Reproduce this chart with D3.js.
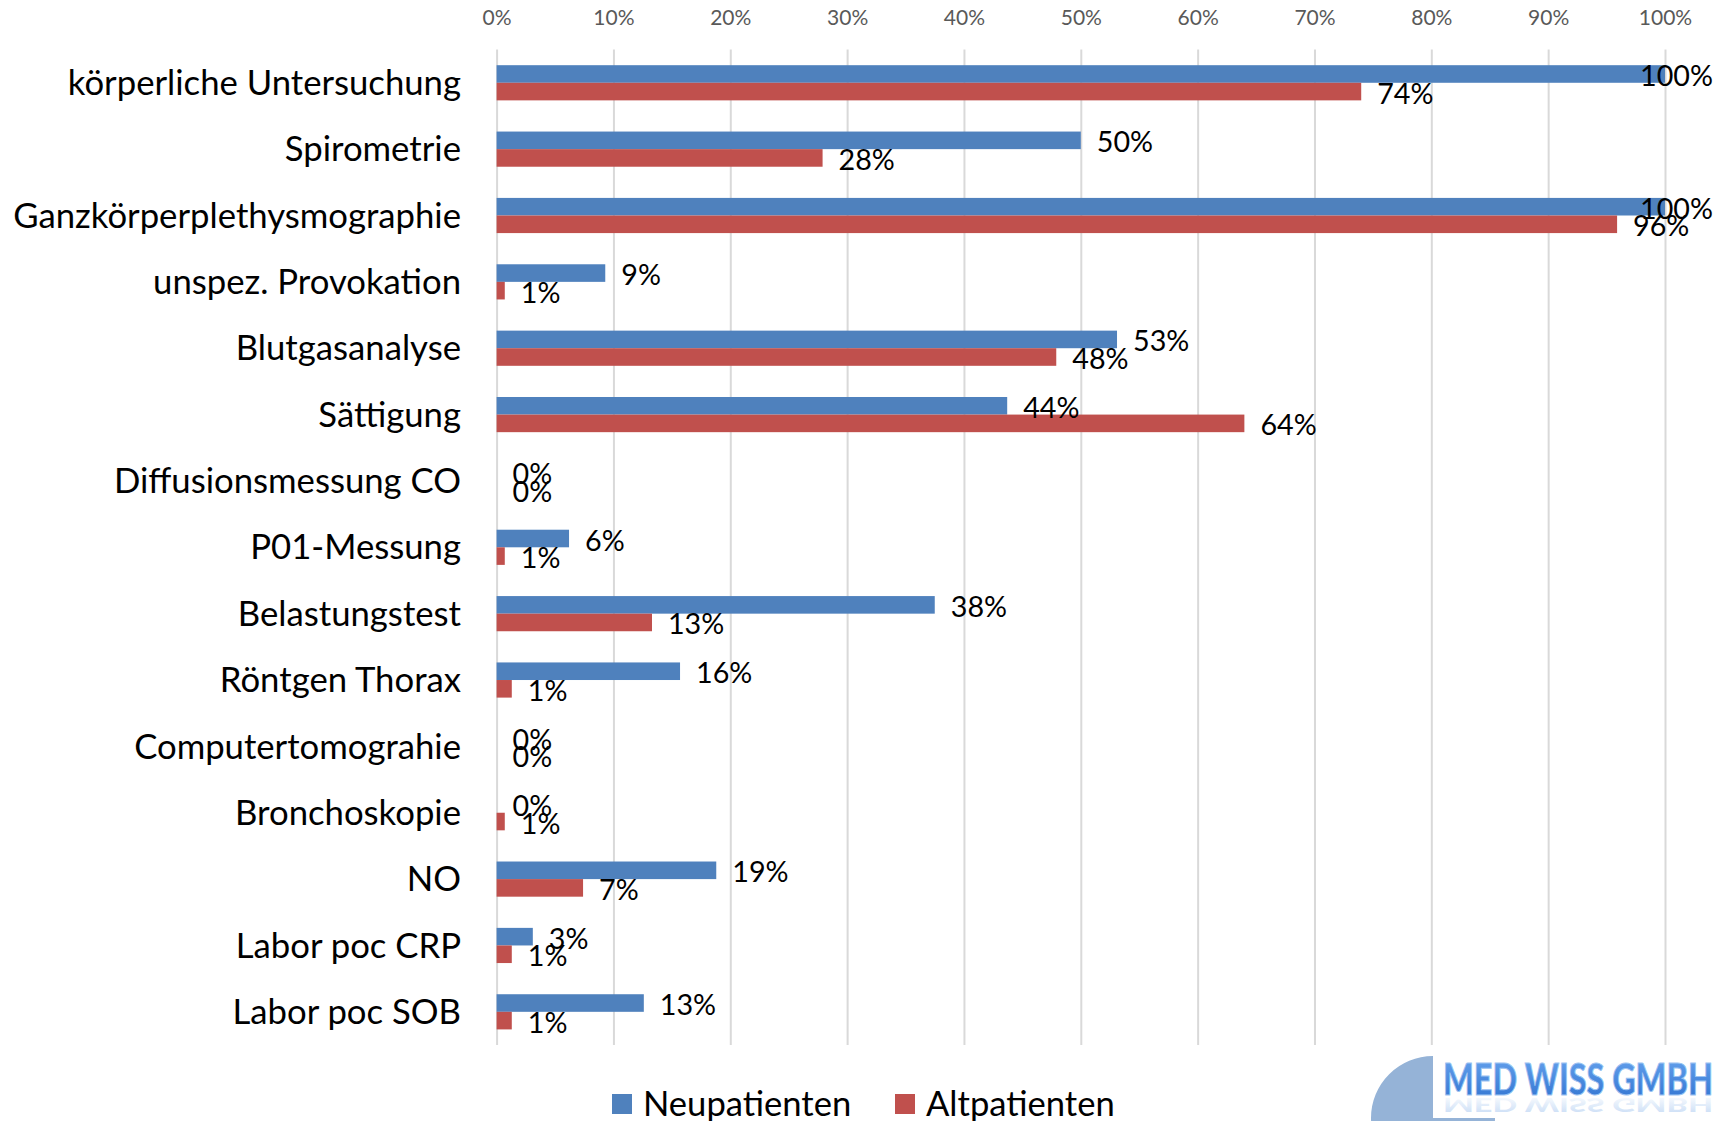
<!DOCTYPE html>
<html>
<head>
<meta charset="utf-8">
<script src="https://cdn.jsdelivr.net/npm/d3@7"></script>
<style>
  html, body { margin: 0; padding: 0; background: #fff; }
  svg { display: block; font-family: Lato, "Open Sans", sans-serif; }
</style>
</head>
<body>
<div id="chart"></div>
<script>
// ---- data ----
const categories = [
  'körperliche Untersuchung', 'Spirometrie', 'Ganzkörperplethysmographie',
  'unspez. Provokation', 'Blutgasanalyse', 'Sättigung', 'Diffusionsmessung CO',
  'P01-Messung', 'Belastungstest', 'Röntgen Thorax', 'Computertomograhie',
  'Bronchoskopie', 'NO', 'Labor poc CRP', 'Labor poc SOB'
];
const seriesNames = ['Neupatienten', 'Altpatienten'];
const neupatienten = [1.00, 0.50, 1.00, 0.093, 0.531, 0.437, 0, 0.062, 0.375, 0.157, 0, 0, 0.188, 0.031, 0.126];
const altpatienten = [0.74, 0.279, 0.959, 0.007, 0.479, 0.64, 0, 0.007, 0.133, 0.013, 0, 0.007, 0.074, 0.013, 0.013];
const tickValues = [0, 0.1, 0.2, 0.3, 0.4, 0.5, 0.6, 0.7, 0.8, 0.9, 1.0];

const WIDTH = 1729, HEIGHT = 1121;
const COLORS = { Neupatienten: '#4F81BD', Altpatienten: '#C0504D' };
const fmt = d3.format('.0%');

const svg = d3.select('#chart').append('svg')
  .attr('width', WIDTH).attr('height', HEIGHT);

const x = d3.scaleLinear().domain([0, 1]).range([496.6, 1665]);
const y = d3.scaleBand().domain(categories).range([49.6, 1045])
  .paddingInner(0.47).paddingOuter(0.235);
const ySub = d3.scaleBand().domain(seriesNames).range([0, y.bandwidth()]);

// gridlines
svg.append('g')
  .attr('transform', `translate(0, 1045)`)
  .call(d3.axisTop(x).tickValues(tickValues).tickSize(1045 - 49.6).tickFormat(''))
  .call(g => g.select('.domain').remove())
  .call(g => g.selectAll('line').attr('stroke', '#d9d9d9').attr('stroke-width', 2));

// top tick labels
svg.append('g')
  .attr('transform', 'translate(0, 17.6)')
  .call(d3.axisTop(x).tickValues(tickValues).tickSize(0).tickPadding(0).tickFormat(fmt))
  .call(g => g.select('.domain').remove())
  .call(g => g.selectAll('text')
    .attr('dy', '0.35em').attr('fill', '#595959')
    .style('font-size', '21px').style('font-family', 'Lato, sans-serif'));

// category labels
svg.append('g')
  .selectAll('text')
  .data(categories)
  .join('text')
  .attr('x', 461)
  .attr('y', d => y(d) + y.bandwidth() / 2)
  .attr('dy', '0.35em')
  .attr('text-anchor', 'end')
  .style('font-size', '34.7px')
  .attr('fill', '#000')
  .text(d => d);

// bars
const rows = categories.map((c, i) => ({
  category: c,
  values: [
    { series: 'Neupatienten', value: neupatienten[i] },
    { series: 'Altpatienten', value: altpatienten[i] }
  ]
}));

const group = svg.append('g').selectAll('g')
  .data(rows)
  .join('g')
  .attr('transform', d => `translate(0, ${y(d.category)})`);

group.selectAll('rect')
  .data(d => d.values)
  .join('rect')
  .attr('x', x(0))
  .attr('y', d => ySub(d.series))
  .attr('width', d => x(d.value) - x(0))
  .attr('height', ySub.bandwidth())
  .attr('fill', d => COLORS[d.series]);

// data labels (pushed back inside the chart area when too wide)
const RIGHT_LIMIT = 1713;
group.selectAll('text.lbl')
  .data(d => d.values)
  .join('text')
  .attr('class', 'lbl')
  .attr('y', d => ySub(d.series) + ySub.bandwidth() / 2 + 2)
  .attr('dy', '0.35em')
  .style('font-size', '28.7px')
  .attr('fill', '#000')
  .text(d => fmt(d.value))
  .each(function (d) {
    const w = this.getComputedTextLength();
    d3.select(this).attr('x', Math.min(x(d.value) + 16, RIGHT_LIMIT - w));
  });

// legend
const legend = svg.append('g').attr('transform', 'translate(0, 1104)');
const legendX = [612, 895];
seriesNames.forEach((s, i) => {
  legend.append('rect')
    .attr('x', legendX[i]).attr('y', -10)
    .attr('width', 20).attr('height', 20)
    .attr('fill', COLORS[s]);
  legend.append('text')
    .attr('x', legendX[i] + 31).attr('y', 0)
    .attr('dy', '0.35em')
    .style('font-size', '34.6px')
    .text(s);
});

// logo
const logo = svg.append('g');
const defs = svg.append('defs');
const grad = defs.append('linearGradient').attr('id', 'logoGrad')
  .attr('x1', 0).attr('y1', 0).attr('x2', 0).attr('y2', 1);
grad.append('stop').attr('offset', '0%').attr('stop-color', '#6aa6f0');
grad.append('stop').attr('offset', '100%').attr('stop-color', '#2f72cf');
const refl = defs.append('linearGradient').attr('id', 'reflGrad')
  .attr('x1', 0).attr('y1', 0).attr('x2', 0).attr('y2', 1);
refl.append('stop').attr('offset', '0%').attr('stop-color', '#4f8fe0').attr('stop-opacity', 0.35);
refl.append('stop').attr('offset', '100%').attr('stop-color', '#4f8fe0').attr('stop-opacity', 0);

logo.append('path')
  .attr('transform', 'translate(1433, 1118)')
  .attr('d', d3.arc()({ innerRadius: 0, outerRadius: 62, startAngle: Math.PI / 2, endAngle: Math.PI * 2 }))
  .attr('fill', '#95B3D7');

logo.append('text')
  .attr('x', 1443).attr('y', 1095)
  .attr('textLength', 270).attr('lengthAdjust', 'spacingAndGlyphs')
  .style('font-size', '44px').style('font-weight', 900)
  .attr('fill', 'url(#logoGrad)')
  .attr('stroke', '#9cc3f2').attr('stroke-width', 1)
  .text('MED WISS GMBH');

// faded reflection, squashed so it stays inside the picture
logo.append('text')
  .attr('transform', 'translate(0, 1098) scale(1, -0.45) translate(0, -1098)')
  .attr('x', 1443).attr('y', 1098)
  .attr('textLength', 270).attr('lengthAdjust', 'spacingAndGlyphs')
  .style('font-size', '44px').style('font-weight', 900)
  .attr('fill', 'url(#reflGrad)')
  .text('MED WISS GMBH');
</script>
</body>
</html>
